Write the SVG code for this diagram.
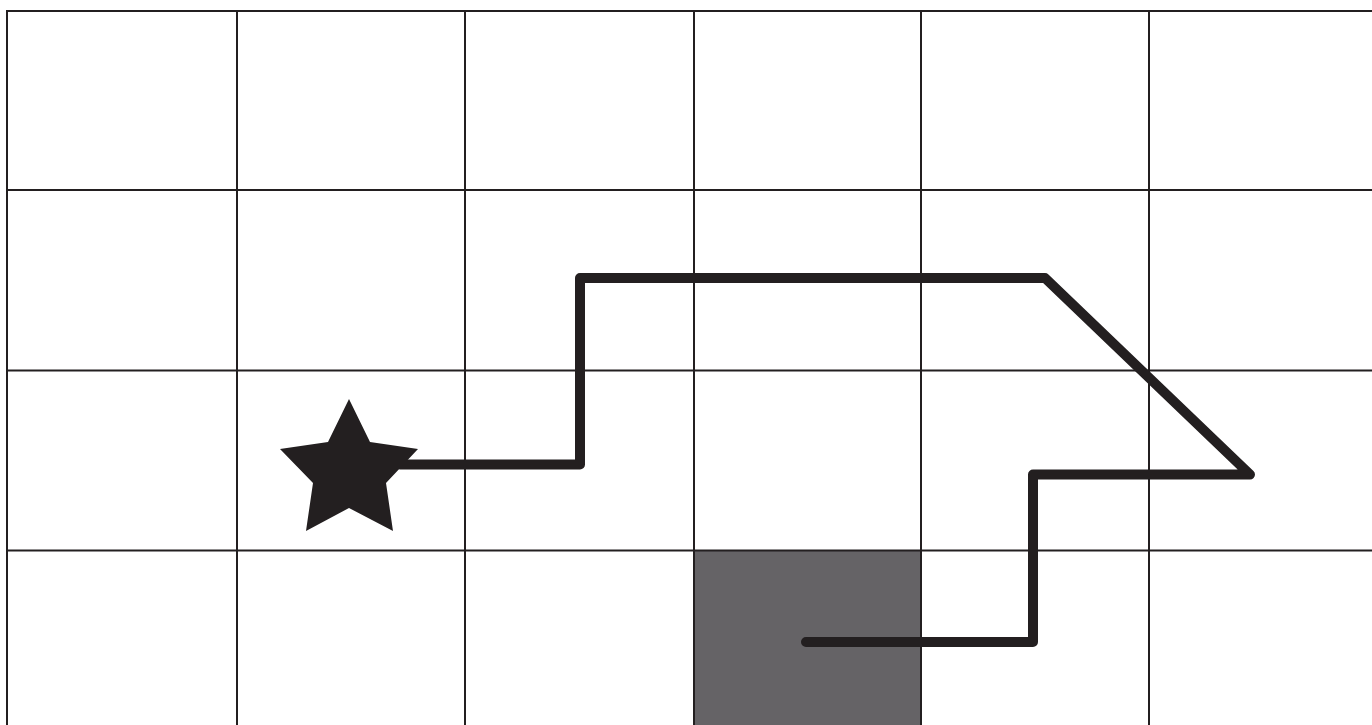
<svg xmlns="http://www.w3.org/2000/svg" width="1372" height="725" viewBox="0 0 1372 725">
<style>
.grid{stroke:#231f20;stroke-width:2;fill:none}
.route{stroke:#231f20;stroke-width:10;fill:none;stroke-linejoin:round;stroke-linecap:round}
</style>
<rect width="1372" height="725" fill="#ffffff"/>
<g id="shaded-cell"><rect x="694" y="551" width="227" height="180" fill="#656366"/></g>
<g id="grid">
<line class="grid" x1="6" y1="11" x2="1372" y2="11"/>
<line class="grid" x1="6" y1="190" x2="1372" y2="190"/>
<line class="grid" x1="6" y1="370.5" x2="1372" y2="370.5"/>
<line class="grid" x1="6" y1="550.5" x2="1372" y2="550.5"/>
<line class="grid" x1="7" y1="10" x2="7" y2="725"/>
<line class="grid" x1="237" y1="10" x2="237" y2="725"/>
<line class="grid" x1="465" y1="10" x2="465" y2="725"/>
<line class="grid" x1="694" y1="10" x2="694" y2="725"/>
<line class="grid" x1="921" y1="10" x2="921" y2="725"/>
<line class="grid" x1="1149" y1="10" x2="1149" y2="725"/>
</g>
<g id="connectors">
<polyline class="route" points="400,464.5 580,464.5 580,278 1045,278 1250,474.5 1033,474.5 1033,642 806,642"/>
</g>
<g id="star">
<polygon fill="#231f20" points="349,399 370,442 418,449 386,483 393,531 349,508 306,531 313,483 280,449 328,442"/>
</g>
</svg>
